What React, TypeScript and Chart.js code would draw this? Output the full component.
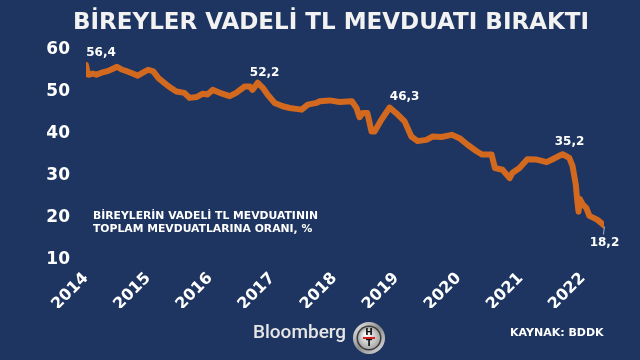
import React, { useEffect, useRef } from "react";
import { Chart, registerables } from "chart.js";

Chart.register(...registerables);

const TITLE = "BİREYLER VADELİ TL MEVDUATI BIRAKTI";
const SUBTITLE = ["BİREYLERİN VADELİ TL MEVDUATININ", "TOPLAM MEVDUATLARINA ORANI, %"];
const SOURCE = "KAYNAK: BDDK";
const BRAND = "Bloomberg";

const YEAR_TICKS = [2014, 2015, 2016, 2017, 2018, 2019, 2020, 2021, 2022];
const Y_TICKS = [10, 20, 30, 40, 50, 60];

const dates = [
  "2014-01-01", "2014-01-08", "2014-01-15", "2014-02-10", "2014-03-01", "2014-04-01",
  "2014-05-01", "2014-06-01", "2014-07-01", "2014-08-01", "2014-09-01", "2014-10-01",
  "2014-11-01", "2014-12-01", "2015-01-01", "2015-02-01", "2015-03-01", "2015-04-01",
  "2015-05-01", "2015-06-15", "2015-08-01", "2015-09-01", "2015-10-12", "2015-11-18",
  "2015-12-15", "2016-01-15", "2016-02-27", "2016-04-24", "2016-06-01", "2016-07-21",
  "2016-08-21", "2016-09-06", "2016-10-06", "2016-11-06", "2016-12-03", "2017-01-15",
  "2017-03-01", "2017-04-12", "2017-06-21", "2017-07-27", "2017-09-18", "2017-10-06",
  "2017-12-03", "2018-02-01", "2018-04-12", "2018-05-09", "2018-05-27", "2018-06-15",
  "2018-07-12", "2018-08-06", "2018-08-24", "2018-10-03", "2018-11-21", "2019-01-01",
  "2019-02-18", "2019-03-27", "2019-05-03", "2019-06-24", "2019-08-01", "2019-09-21",
  "2019-11-21", "2020-01-06", "2020-02-21", "2020-04-15", "2020-05-18", "2020-07-12",
  "2020-08-01", "2020-09-15", "2020-10-27", "2020-11-12", "2020-12-24", "2021-02-09",
  "2021-04-03", "2021-06-01", "2021-07-06", "2021-09-03", "2021-10-12", "2021-11-01",
  "2021-11-20", "2021-11-28", "2021-12-06", "2021-12-14", "2022-01-01", "2022-01-21",
  "2022-02-09", "2022-03-24", "2022-05-06",
];

const values = [
  56.4, 55.0, 54.1, 54.4, 54.1, 54.6,
  54.9, 55.4, 56.0, 55.3, 54.9, 54.4,
  53.9, 54.6, 55.3, 54.9, 53.3, 52.3,
  51.3, 50.1, 49.8, 48.6, 48.8, 49.6,
  49.4, 50.5, 49.8, 49.0, 49.8, 51.3,
  51.3, 50.5, 52.2, 51.0, 49.4, 47.4,
  46.6, 46.2, 45.8, 47.0, 47.4, 47.8,
  48.0, 47.6, 47.8, 46.2, 44.0, 45.0,
  45.0, 40.6, 40.6, 43.4, 46.3, 44.9,
  43.0, 39.4, 38.3, 38.6, 39.4, 39.3,
  39.8, 39.0, 37.5, 35.9, 35.1, 35.1,
  31.9, 31.5, 29.5, 30.7, 31.9, 34.0,
  33.9, 33.3, 34.0, 35.2, 34.3, 32.4,
  28.0, 24.5, 21.5, 24.5, 23.2, 22.4,
  20.5, 19.6, 18.2,
];

// callout labels (data points that carry a value label)
const calloutDates = ["2014-01-01", "2016-10-06", "2018-11-21", "2021-09-03", "2022-05-06"];
const calloutTexts = ["56,4", "52,2", "46,3", "35,2", "18,2"];
const calloutOffsets = [
  [15, -12],
  [7, -10],
  [15, -11],
  [7, -12],
  [0, 17],
];

const toYear = (d: string) => {
  const [y, m, dd] = d.split("-").map(Number);
  return y + (m - 1) / 12 + (dd - 1) / 365;
};

const BG = "#1d3560";
const LINE = "#d2691f";
const FONT = "'DejaVu Sans', Verdana, sans-serif";

export default function App() {
  const ref = useRef<HTMLCanvasElement | null>(null);

  useEffect(() => {
    document.body.style.margin = "0";
    const canvas = ref.current;
    if (!canvas) return;

    const decor = {
      id: "decor",
      beforeDraw(chart: any) {
        const ctx = chart.ctx;
        ctx.save();
        ctx.fillStyle = BG;
        ctx.fillRect(0, 0, chart.width, chart.height);
        ctx.restore();
      },
      afterDraw(chart: any) {
        const ctx = chart.ctx;
        const xs = chart.scales.x;
        const ys = chart.scales.y;
        ctx.save();
        // title
        ctx.fillStyle = "#f2f2f2";
        ctx.textAlign = "center";
        ctx.textBaseline = "middle";
        ctx.font = `bold 23px ${FONT}`;
        ctx.fillText(TITLE, 331, 23);

        // subtitle
        ctx.textAlign = "left";
        ctx.font = `bold 10.8px ${FONT}`;
        ctx.fillStyle = "#ffffff";
        ctx.fillText(SUBTITLE[0], 93, 216);
        ctx.fillText(SUBTITLE[1], 93, 229);

        // callouts
        ctx.font = `bold 12px ${FONT}`;
        ctx.textAlign = "center";
        calloutDates.forEach((d, i) => {
          const idx = dates.indexOf(d);
          const px = xs.getPixelForValue(toYear(d));
          const py = ys.getPixelForValue(values[idx]);
          const [dx, dy] = calloutOffsets[i];
          if (i === calloutDates.length - 1) {
            ctx.strokeStyle = "#aab4c4";
            ctx.lineWidth = 1;
            ctx.beginPath();
            ctx.moveTo(px, py + 1);
            ctx.lineTo(px - 1, py + 9);
            ctx.stroke();
          }
          ctx.fillStyle = "#ffffff";
          ctx.fillText(calloutTexts[i], px + dx, py + dy);
        });

        // source
        ctx.textAlign = "left";
        ctx.font = `bold 11px ${FONT}`;
        ctx.fillText(SOURCE, 510, 333);

        // brand
        ctx.font = `500 19px Roboto, sans-serif`;
        ctx.fillStyle = "#e6e6e6";
        ctx.fillText(BRAND, 253, 333);

        // HT logo
        const cx = 369, cy = 338;
        const g = ctx.createLinearGradient(cx - 16, cy - 16, cx + 16, cy + 16);
        g.addColorStop(0, "#f4f4f4");
        g.addColorStop(0.5, "#8c8c8c");
        g.addColorStop(1, "#e6e6e6");
        ctx.fillStyle = g;
        ctx.beginPath();
        ctx.arc(cx, cy, 16, 0, Math.PI * 2);
        ctx.fill();
        ctx.fillStyle = "#3c3c3c";
        ctx.beginPath();
        ctx.arc(cx, cy, 12.5, 0, Math.PI * 2);
        ctx.fill();
        const g2 = ctx.createRadialGradient(cx - 3, cy - 4, 1, cx, cy, 11);
        g2.addColorStop(0, "#ffffff");
        g2.addColorStop(1, "#a8a8a8");
        ctx.fillStyle = g2;
        ctx.beginPath();
        ctx.arc(cx, cy, 11, 0, Math.PI * 2);
        ctx.fill();
        ctx.fillStyle = "#111111";
        ctx.textAlign = "center";
        ctx.font = `bold 9px ${FONT}`;
        ctx.fillText("H", cx, cy - 5);
        ctx.fillText("T", cx, cy + 6);
        ctx.fillStyle = "#d21f1f";
        ctx.fillRect(cx - 6, cy - 1, 12, 2);
        ctx.restore();
      },
    };

    const chart = new Chart(canvas, {
      type: "line",
      data: {
        datasets: [
          {
            data: dates.map((d, i) => ({ x: toYear(d), y: values[i] })),
            borderColor: LINE,
            borderWidth: 6,
            pointRadius: 0,
            tension: 0,
            borderJoinStyle: "round",
            borderCapStyle: "round",
          },
        ],
      },
      options: {
        responsive: false,
        animation: false,
        layout: { padding: { top: 50, right: 36, bottom: 52, left: 0 } },
        plugins: { legend: { display: false }, tooltip: { enabled: false } },
        scales: {
          x: {
            type: "linear",
            min: 2014,
            max: 2022.34,
            grid: { display: false, drawTicks: false },
            border: { display: false },
            afterBuildTicks: (s: any) => {
              s.ticks = YEAR_TICKS.map((v) => ({ value: v }));
            },
            afterFit: (s: any) => {
              s.height = 48;
            },
            ticks: {
              color: "#ffffff",
              font: { family: FONT, weight: "bold", size: 16 },
              minRotation: 45,
              maxRotation: 45,
              padding: 9,
              callback: (v: any) => String(v),
            },
          },
          y: {
            min: 10,
            max: 60,
            grid: { display: false, drawTicks: false },
            border: { display: false },
            afterBuildTicks: (s: any) => {
              s.ticks = Y_TICKS.map((v) => ({ value: v }));
            },
            afterFit: (s: any) => {
              s.width = 86;
            },
            ticks: {
              color: "#ffffff",
              font: { family: FONT, weight: "bold", size: 17 },
              padding: 16,
            },
          },
        },
      },
      plugins: [decor],
    } as any);

    return () => chart.destroy();
  }, []);

  return (
    <div style={{ position: "fixed", left: 0, top: 0, width: 640, height: 360, background: BG }}>
      <canvas ref={ref} width={640} height={360} />
    </div>
  );
}
